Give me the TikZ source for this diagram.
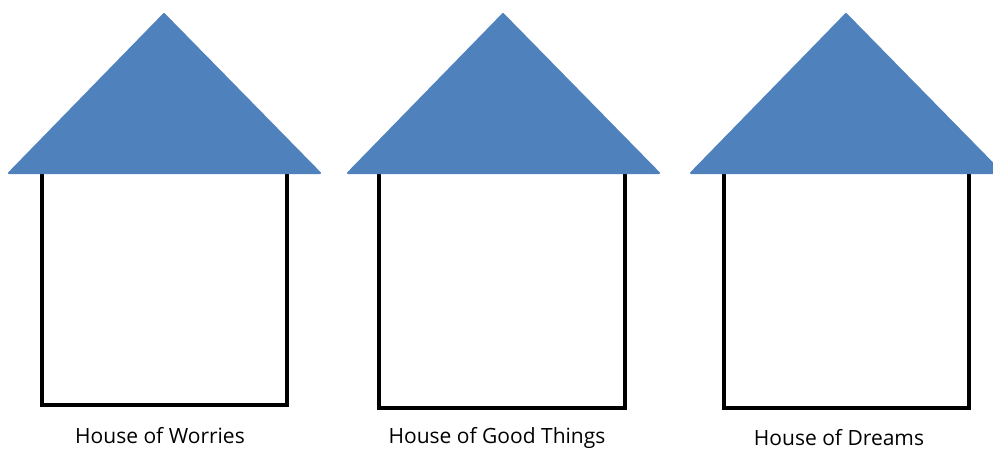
\documentclass[tikz,border=0pt]{standalone}
\usepackage{fontspec}
\setmainfont{Open Sans}
\definecolor{roofblue}{HTML}{4F81BD}
\begin{document}
\begin{tikzpicture}[x=1pt,y=-1pt,
  roof/.style={fill=roofblue,draw=roofblue,line width=2pt,line join=round},
  wall/.style={draw=black,line width=4pt,line join=miter},
  label/.style={font=\fontsize{21}{24}\selectfont,inner sep=0pt,anchor=center}]
\useasboundingbox (0,0) rectangle (993,450);
\clip (0,0) rectangle (993,450);
% House 1
\draw[wall] (41.5,173) -- (41.5,405) -- (287,405) -- (287,173);
\draw[roof] (164,14) -- (9,173) -- (320,173) -- cycle;
\node[label] (t1) at (160,436) {House of Worries};
% House 2
\draw[wall] (379,173) -- (379,408) -- (625,408) -- (625,173);
\draw[roof] (503,14) -- (348,173) -- (659,173) -- cycle;
\node[label] (t2) at (497,437.5) {House of Good Things};
% House 3
\draw[wall] (724,173) -- (724,408) -- (969,408) -- (969,173);
\draw[roof] (846,14) -- (691,173) -- (1002,173) -- cycle;
\node[label] (t3) at (839,437.5) {House of Dreams};
\end{tikzpicture}
\end{document}
